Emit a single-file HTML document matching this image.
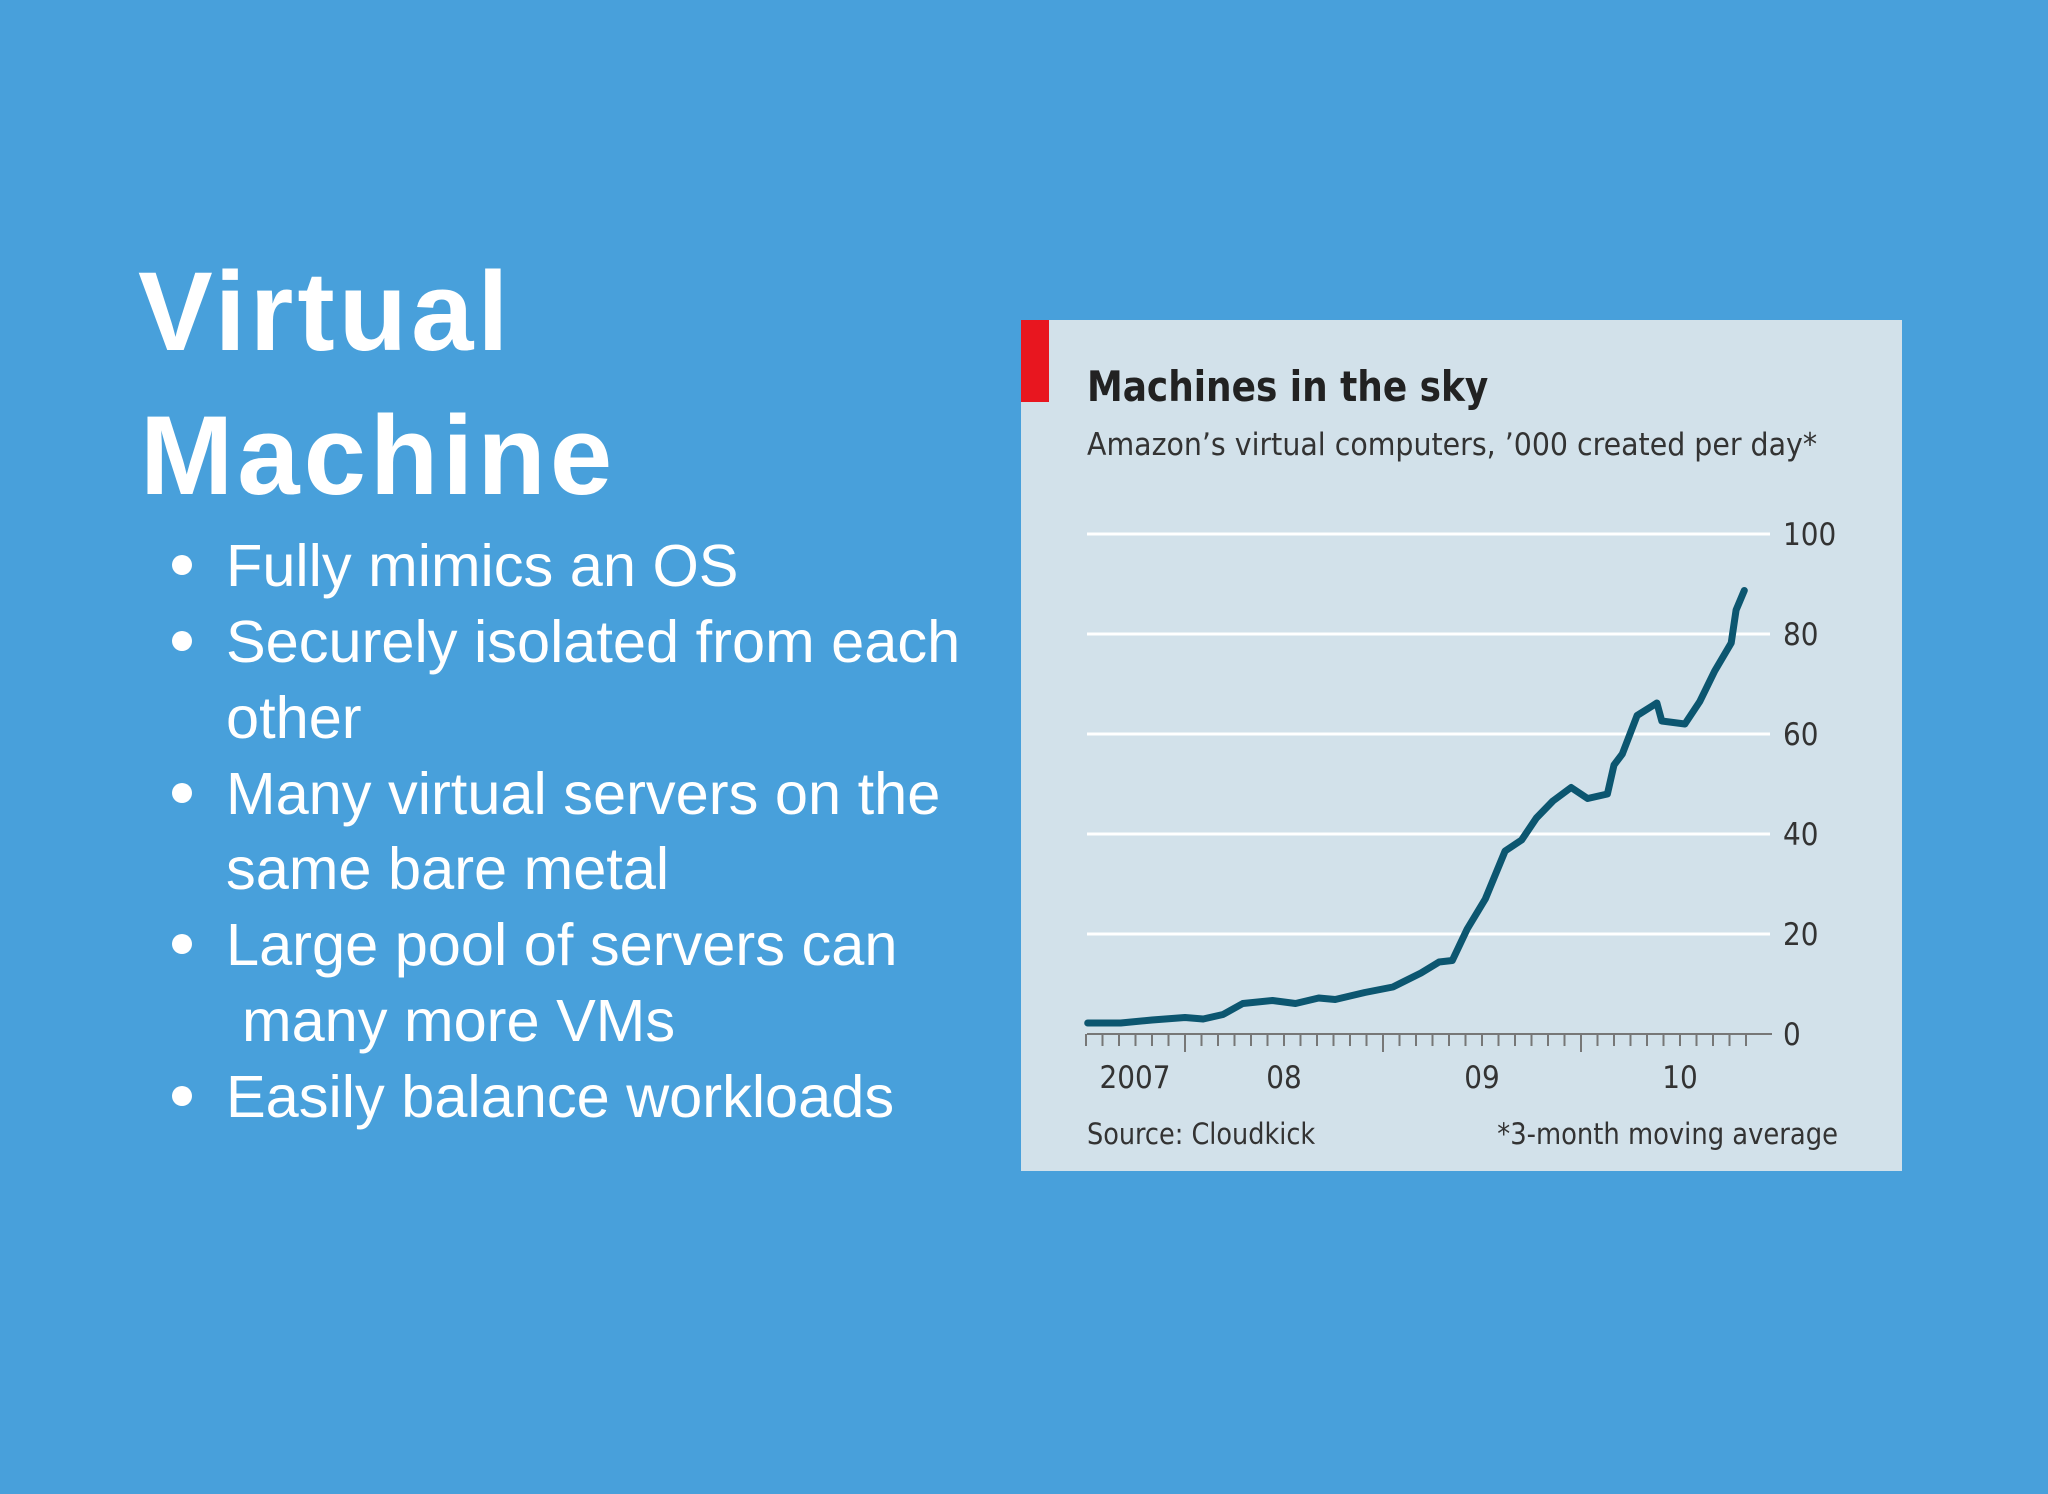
<!DOCTYPE html>
<html><head><meta charset="utf-8">
<style>
html,body{margin:0;padding:0;background:#48a0db;}
svg{display:block;}
</style></head>
<body>
<svg id="page" width="2048" height="1494" viewBox="0 0 2048 1494" xmlns="http://www.w3.org/2000/svg" font-family="Liberation Sans, sans-serif">
<rect x="0" y="0" width="2048" height="1494" fill="#48a0db"/>
<g fill="#ffffff" font-size="112" font-weight="bold" letter-spacing="4">
<text x="138" y="350">Virtual</text>
<text x="140" y="494">Machine</text>
</g>
<g fill="#ffffff" font-size="59.5">
<circle cx="182" cy="565" r="10"/>
<text x="226" y="586">Fully mimics an OS</text>
<circle cx="182" cy="641" r="10"/>
<text x="226" y="662">Securely isolated from each</text>
<text x="226" y="738">other</text>
<circle cx="182" cy="793" r="10"/>
<text x="226" y="814">Many virtual servers on the</text>
<text x="226" y="889">same bare metal</text>
<circle cx="182" cy="944" r="10"/>
<text x="226" y="965">Large pool of servers can</text>
<text x="242" y="1041">many more VMs</text>
<circle cx="182" cy="1096" r="10"/>
<text x="226" y="1117">Easily balance workloads</text>
</g>
<g id="chart">
<rect x="1021" y="320" width="881" height="851" fill="#d2e1ea"/>
<rect x="1021" y="320" width="28" height="82" fill="#e8161f"/>
<text x="1087" y="401" font-size="42" font-weight="bold" fill="#222" font-family="DejaVu Sans Condensed, DejaVu Sans, sans-serif" transform="translate(1087 0) scale(0.95 1) translate(-1087 0)">Machines in the sky</text>
<text x="1087" y="455" font-size="31" fill="#333" font-family="DejaVu Sans Condensed, DejaVu Sans, sans-serif" transform="translate(1087 0) scale(1.02 1) translate(-1087 0)">Amazon’s virtual computers, ’000 created per day*</text>
<g id="grid"></g>
<g id="xaxis"></g>
<path id="series" fill="none" stroke="#0c5670" stroke-width="7" stroke-linejoin="round" stroke-linecap="round"/>
<text x="1087" y="1144" font-size="29" fill="#333" font-family="DejaVu Sans Condensed, DejaVu Sans, sans-serif" transform="translate(1087 0) scale(0.98 1) translate(-1087 0)">Source: Cloudkick</text>
<text x="1838" y="1144" font-size="29" fill="#333" text-anchor="end" font-family="DejaVu Sans Condensed, DejaVu Sans, sans-serif" transform="translate(1838 0) scale(0.99 1) translate(-1838 0)">*3-month moving average</text>
</g>
</svg>
<script>
// months since Jan 2007
const months = [6.1,8.1,10,12,13.1,14.3,15.5,17.3,18.7,20.1,21.1,22.9,24.6,26.3,27.4,28.2,29.1,30.2,31.4,32.4,33.3,34.3,35.4,36.4,37.6,38.0,38.5,39.4,40.6,40.9,42.3,43.2,44.1,45.1,45.4,45.9];
const values = [2.2,2.2,2.8,3.3,3,3.9,6.1,6.7,6.1,7.2,6.9,8.3,9.4,12.2,14.4,14.7,21,27,36.6,38.8,43.2,46.6,49.3,47.1,48,53.8,56,63.7,66.2,62.6,62,66.5,72.6,78.2,84.8,88.7];
const yTicks = [0,20,40,60,80,100];
const yearLabels = ["2007","08","09","10"];
const yearStarts = [0,12,24,36];

const NS="http://www.w3.org/2000/svg";
const xS = m => 1185 + (m-12)*16.5;
const yS = v => 1034 - v*5.0;
function mk(tag, attrs, parent, txt){const e=document.createElementNS(NS,tag);for(const k in attrs)e.setAttribute(k,attrs[k]);if(txt!==undefined)e.textContent=txt;parent.appendChild(e);return e;}
const grid=document.getElementById('grid'), xa=document.getElementById('xaxis');
yTicks.forEach(t=>{
  if(t>0){const l=mk('line',{x1:1087,x2:1770,y1:yS(t),y2:yS(t),stroke:'#ffffff','stroke-width':3},grid);
  
  }
  const tx=mk('text',{x:1783,y:yS(t)+11,'font-size':31,fill:'#333','font-family':'DejaVu Sans Condensed, DejaVu Sans, sans-serif'},grid,String(t));
  
  
});
const ax=mk('line',{x1:1087,x2:1772,y1:1034,y2:1034,stroke:'#777','stroke-width':2},xa);


for(let m=6;m<=46;m++){
  const major = m%12===0;
  const t=mk('line',{x1:xS(m),x2:xS(m),y1:1034,y2:major?1052:1046,stroke:'#777','stroke-width':2},xa);
  
  
}
yearLabels.forEach((lab,i)=>{
  let cx = xS(yearStarts[i]+6);
  if(i===0) cx = 1135;
  const t=mk('text',{x:cx,y:1088,'font-size':31,fill:'#333','text-anchor':'middle','font-family':'DejaVu Sans Condensed, DejaVu Sans, sans-serif'},xa,lab);
  
  
});
let d='';
months.forEach((m,i)=>{d+=(i?'L':'M')+xS(m).toFixed(1)+','+yS(values[i]).toFixed(1);});
document.getElementById('series').setAttribute('d',d);
</script>
</body></html>
